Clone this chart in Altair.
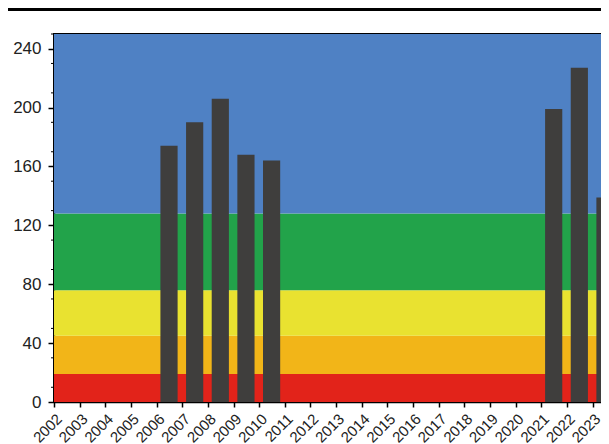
import altair as alt
import pandas as pd

# --- data ---
years = [2006, 2007, 2008, 2009, 2010, 2021, 2022, 2023]
values = [174, 190, 206, 168, 164, 199, 227, 139]

band_names = ["red", "orange", "yellow", "green", "blue"]
band_lo = [0, 19, 45, 76, 128]
band_hi = [19, 45, 76, 128, 250]
band_colors = ["#E2231A", "#F2B518", "#E9E230", "#22A34A", "#4F81C4"]

tick_years = list(range(2002, 2024))
y_major = list(range(0, 241, 20))
y_minor = list(range(10, 251, 20))

bars = pd.DataFrame({"year": years, "value": values})
bands = pd.DataFrame({"band": band_names, "lo": band_lo, "hi": band_hi})
minor = pd.DataFrame({"v": y_minor})

W, H = 547, 368
xscale = alt.Scale(domain=[2002, 2023.33], nice=False, zero=False)
yscale = alt.Scale(domain=[0, 250], nice=False)

band_layer = alt.Chart(bands).mark_rect().encode(
    y=alt.Y("lo:Q", scale=yscale, title=None,
            axis=alt.Axis(values=y_major, tickSize=6, labelPadding=7, grid=False,
                          labelOverlap=False, labelFontSize=17)),
    y2="hi:Q",
    color=alt.Color("band:N", scale=alt.Scale(domain=band_names, range=band_colors), legend=None),
)

bar_layer = alt.Chart(bars).transform_calculate(
    x0="datum.year + 0.15", x1="datum.year + 0.82"
).mark_rect(color="#3F3E3D", clip=True).encode(
    x=alt.X("x0:Q", scale=xscale, title=None,
            axis=alt.Axis(values=tick_years, format="d", labelAngle=-45, tickSize=5,
                          labelPadding=4, labelAlign="right", labelBaseline="top",
                          labelFontSize=15, grid=False, labelOverlap=False,
                          labelBound=False, labelFlush=False)),
    x2="x1:Q",
    y=alt.Y("value:Q", scale=yscale),
    y2=alt.datum(0),
)

minor_layer = alt.Chart(minor).mark_rule(color="black", strokeWidth=1).encode(
    y=alt.Y("v:Q", scale=yscale),
    x=alt.value(-3),
    x2=alt.value(0),
)

top_line = alt.Chart(minor).mark_rule(color="black", strokeWidth=3).encode(
    x=alt.value(-46), x2=alt.value(W), y=alt.value(-25)
)

chart = alt.layer(band_layer, bar_layer, minor_layer, top_line).properties(
    width=W, height=H,
    autosize=alt.AutoSizeParams(type="none"),
    padding={"left": 46, "top": 26, "right": 0, "bottom": 42},
).configure_view(
    stroke="black", strokeWidth=2
).configure_axis(
    labelFont="Liberation Sans", labelColor="#222222",
    domainColor="black", domainWidth=1.5, tickColor="black", tickWidth=1.5,
)

chart.save("out.html", embed_options={"renderer": "svg", "actions": False})
